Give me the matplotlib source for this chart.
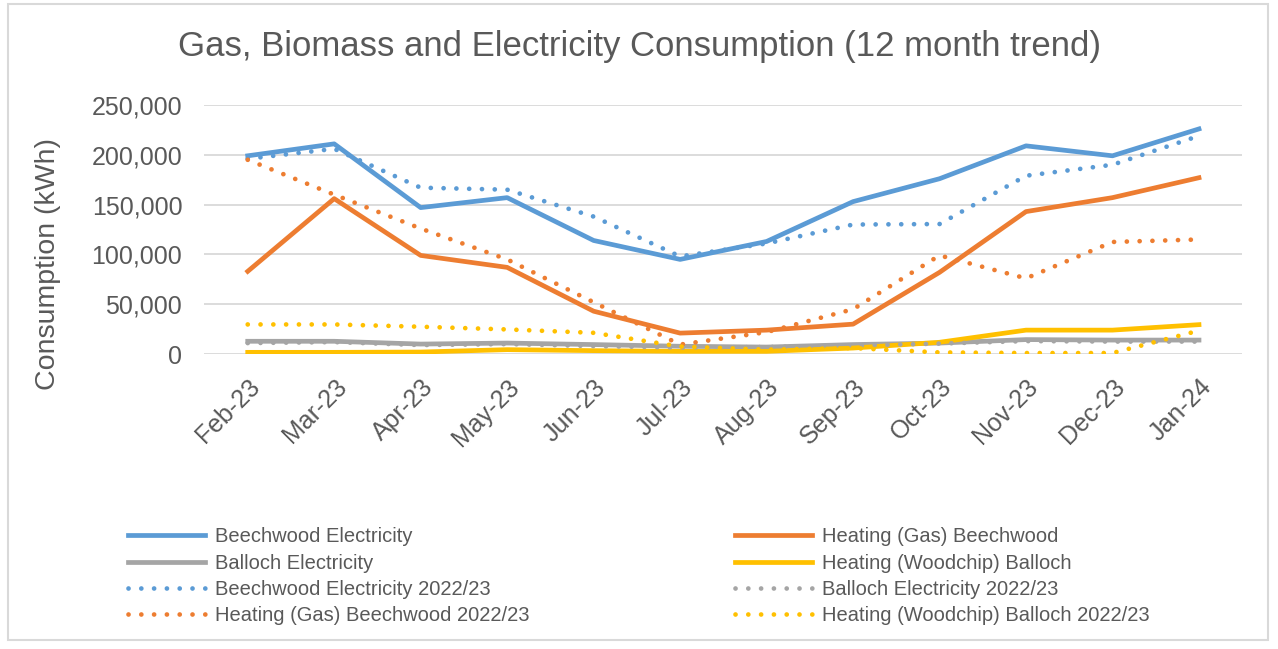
import matplotlib.pyplot as plt
from matplotlib.patches import Rectangle
from matplotlib.ticker import FuncFormatter

plt.rcParams['font.family'] = ['Liberation Sans', 'DejaVu Sans']

# Months on the category axis
months = ['Feb-23', 'Mar-23', 'Apr-23', 'May-23', 'Jun-23', 'Jul-23',
          'Aug-23', 'Sep-23', 'Oct-23', 'Nov-23', 'Dec-23', 'Jan-24']

# Current 12 months (kWh)
beech_elec = [199000, 211000, 147000, 157000, 114000, 95000,
              113000, 153000, 176000, 209000, 199000, 226000]
gas_beech = [83000, 156000, 99000, 87000, 43000, 21000,
             24000, 30000, 82000, 143000, 157000, 177000]
balloch_elec = [12800, 12800, 10000, 11000, 9500, 7800,
                7000, 9500, 11000, 14500, 14000, 14000]
woodchip = [1700, 1700, 2000, 4400, 3400, 2700,
            2700, 6000, 11800, 24000, 24000, 29500]

# Previous year 2022/23 (kWh)
beech_elec_prev = [196000, 206000, 167000, 165000, 138000, 98000,
                   111000, 130000, 130500, 179000, 190000, 219000]
balloch_elec_prev = [11000, 12000, 9000, 10000, 8000, 6500,
                     7000, 8500, 10500, 13000, 12500, 12500]
gas_beech_prev = [195000, 160000, 126000, 95000, 52000, 9500,
                  22000, 45000, 99000, 76000, 112500, 115000]
woodchip_prev = [29700, 29700, 27400, 24700, 21300, 7500,
                 4400, 6000, 1600, 1000, 1000, 23500]

blue = '#5B9BD5'
orange = '#ED7D31'
grey = '#A5A5A5'
yellow = '#FFC000'
text_col = '#595959'

fig = plt.figure(figsize=(12.78, 6.49), dpi=100)
ax = fig.add_axes([0.160, 0.4545, 0.812, 0.3837])

x = range(len(months))
lw = 3.4
dots = (0, (0.01, 2.7))

l1, = ax.plot(x, beech_elec, color=blue, lw=lw, label='Beechwood Electricity')
l2, = ax.plot(x, gas_beech, color=orange, lw=lw, label='Heating (Gas) Beechwood')
l3, = ax.plot(x, balloch_elec, color=grey, lw=lw, label='Balloch Electricity')
l4, = ax.plot(x, woodchip, color=yellow, lw=lw, label='Heating (Woodchip) Balloch')
l5, = ax.plot(x, beech_elec_prev, color=blue, lw=lw, ls=dots, dash_capstyle='round',
              label='Beechwood Electricity 2022/23')
l6, = ax.plot(x, balloch_elec_prev, color=grey, lw=lw, ls=dots, dash_capstyle='round',
              label='Balloch Electricity 2022/23')
l7, = ax.plot(x, gas_beech_prev, color=orange, lw=lw, ls=dots, dash_capstyle='round',
              label='Heating (Gas) Beechwood 2022/23')
l8, = ax.plot(x, woodchip_prev, color=yellow, lw=lw, ls=dots, dash_capstyle='round',
              label='Heating (Woodchip) Balloch 2022/23')

ax.set_xlim(-0.5, len(months) - 0.5)
ax.set_ylim(0, 250000)
ax.set_yticks(range(0, 250001, 50000))
ax.yaxis.set_major_formatter(FuncFormatter(lambda v, p: f'{int(v):,}'))
ax.set_xticks(list(x))
ax.set_xticklabels(months, rotation=45, ha='right', rotation_mode='anchor')

ax.grid(axis='y', color='#D9D9D9', lw=1.3)
ax.set_axisbelow(True)
for s in ax.spines.values():
    s.set_visible(False)
ax.tick_params(axis='both', length=0, colors=text_col, labelsize=18)
ax.tick_params(axis='y', pad=16)
ax.tick_params(axis='x', pad=15)

ax.set_ylabel('Consumption (kWh)', fontsize=20.5, color=text_col)
ax.yaxis.set_label_coords(-0.138, 0.36)
fig.text(0.5, 0.928, 'Gas, Biomass and Electricity Consumption (12 month trend)',
         ha='center', va='center', fontsize=25, color=text_col)

# Two legend columns, placed like the original
leg_kw = dict(loc='upper left', frameon=False, fontsize=14.5, handlelength=3.83,
              handletextpad=0.5, labelspacing=0.36, borderpad=0, borderaxespad=0,
              labelcolor=text_col)
fig.legend(handles=[l1, l3, l5, l7], bbox_to_anchor=(128 / 1278, 0.1875), **leg_kw)
fig.legend(handles=[l2, l4, l6, l8], bbox_to_anchor=(735 / 1278, 0.1875), **leg_kw)

# Light border round the chart
fig.patches.append(Rectangle((8 / 1278, 9 / 649), 1260 / 1278, 636 / 649,
                             transform=fig.transFigure, fill=False,
                             edgecolor='#D9D9D9', lw=1.5))

plt.savefig('out.png', dpi=100)
